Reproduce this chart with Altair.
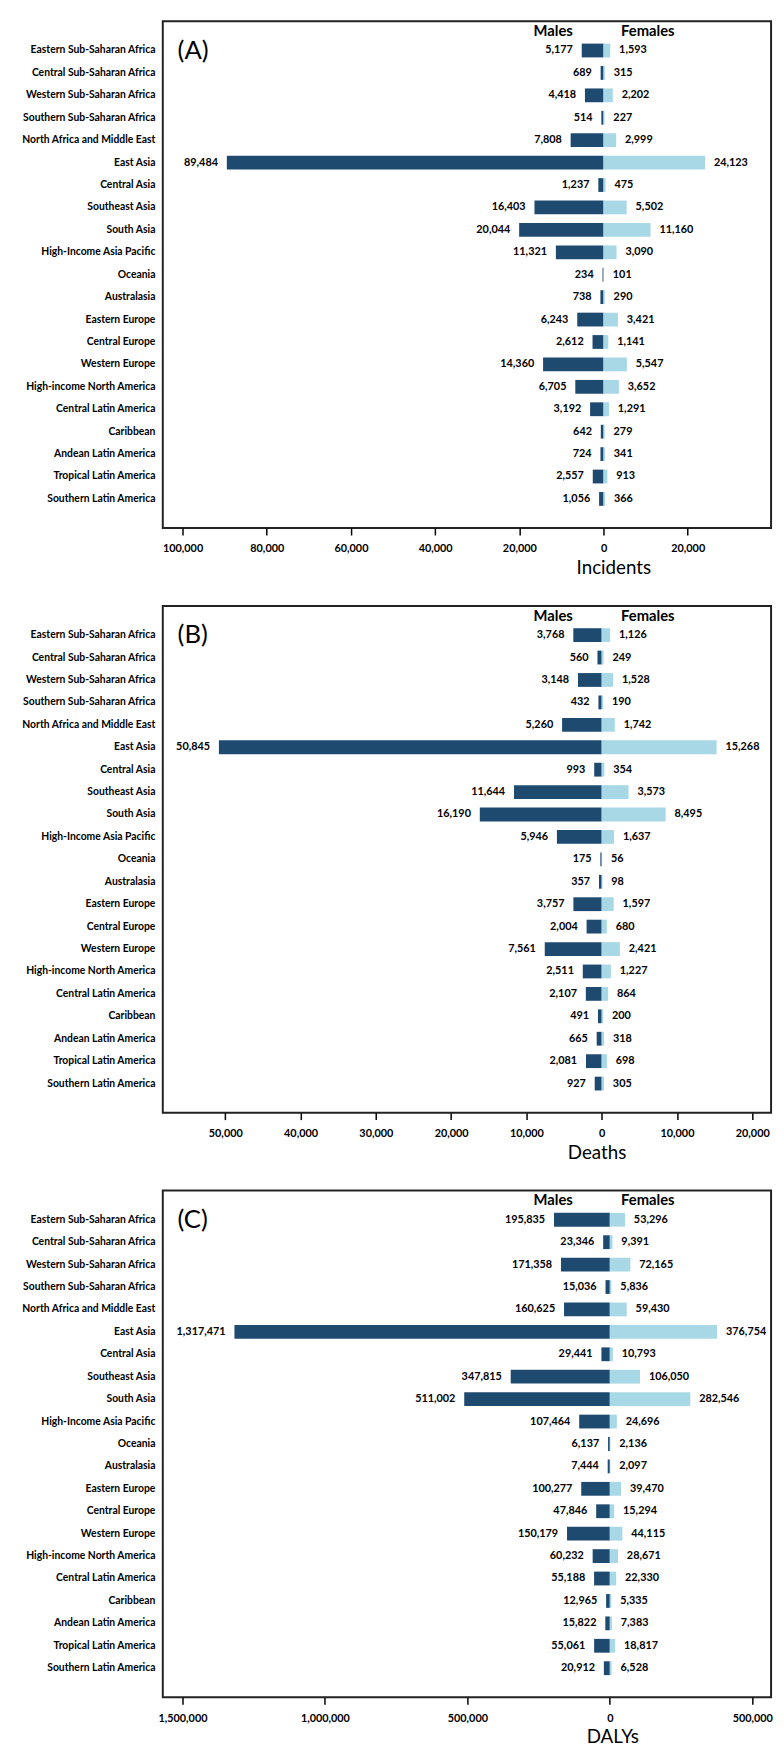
import altair as alt
import pandas as pd

regions = [
    "Eastern Sub-Saharan Africa", "Central Sub-Saharan Africa", "Western Sub-Saharan Africa",
    "Southern Sub-Saharan Africa", "North Africa and Middle East", "East Asia", "Central Asia",
    "Southeast Asia", "South Asia", "High-Income Asia Pacific", "Oceania", "Australasia",
    "Eastern Europe", "Central Europe", "Western Europe", "High-income North America",
    "Central Latin America", "Caribbean", "Andean Latin America", "Tropical Latin America",
    "Southern Latin America",
]

inc_males = [5177, 689, 4418, 514, 7808, 89484, 1237, 16403, 20044, 11321, 234, 738,
             6243, 2612, 14360, 6705, 3192, 642, 724, 2557, 1056]
inc_females = [1593, 315, 2202, 227, 2999, 24123, 475, 5502, 11160, 3090, 101, 290,
               3421, 1141, 5547, 3652, 1291, 279, 341, 913, 366]

death_males = [3768, 560, 3148, 432, 5260, 50845, 993, 11644, 16190, 5946, 175, 357,
               3757, 2004, 7561, 2511, 2107, 491, 665, 2081, 927]
death_females = [1126, 249, 1528, 190, 1742, 15268, 354, 3573, 8495, 1637, 56, 98,
                 1597, 680, 2421, 1227, 864, 200, 318, 698, 305]

daly_males = [195835, 23346, 171358, 15036, 160625, 1317471, 29441, 347815, 511002, 107464,
              6137, 7444, 100277, 47846, 150179, 60232, 55188, 12965, 15822, 55061, 20912]
daly_females = [53296, 9391, 72165, 5836, 59430, 376754, 10793, 106050, 282546, 24696,
                2136, 2097, 39470, 15294, 44115, 28671, 22330, 5335, 7383, 18817, 6528]

inc_ticks = [-100000, -80000, -60000, -40000, -20000, 0, 20000]
death_ticks = [-50000, -40000, -30000, -20000, -10000, 0, 10000, 20000]
daly_ticks = [-1500000, -1000000, -500000, 0, 500000]

DARK = "#1f4a70"
LIGHT = "#a8d8e6"
FONT = "Lato"
W = 617
H = 514


def panel(tag, title, males, females, domain, ticks, title_x):
    rows = []
    for r, m, f in zip(regions, males, females):
        rows.append({"region": r, "sex": "Males", "value": -m, "label": f"{m:,}"})
        rows.append({"region": r, "sex": "Females", "value": f, "label": f"{f:,}"})
    df = pd.DataFrame(rows)

    x = alt.X(
        "value:Q", stack=None,
        scale=alt.Scale(domain=domain, nice=False, zero=False),
        axis=alt.Axis(
            values=ticks, labelExpr="format(abs(datum.value), ',')", title=title,
            grid=False, domain=False, tickSize=7, tickColor="#000", tickWidth=1.5,
            labelPadding=8, labelFont=FONT, labelFontSize=11, labelFontWeight="bold",
            labelColor="#000", titleFont=FONT, titleFontSize=19, titleFontWeight="normal",
            titleColor="#000", titleX=title_x, titleY=40, titleAlign="center",
            titleBaseline="middle", labelFlush=False, labelOverlap=False,
        ),
    )
    y = alt.Y(
        "region:N", sort=regions,
        scale=alt.Scale(paddingInner=0, paddingOuter=0.8),
        axis=alt.Axis(
            title=None, ticks=False, domain=False, labelPadding=8, labelFont=FONT,
            labelFontSize=10.5, labelFontWeight="bold", labelColor="#000", labelLimit=148,
            minExtent=156, maxExtent=156,
        ),
    )
    base = alt.Chart(df)
    bars = base.mark_bar(size=14).encode(
        x=x, y=y,
        color=alt.Color("sex:N", scale=alt.Scale(domain=["Males", "Females"], range=[DARK, LIGHT]),
                        legend=None),
    )
    mtext = base.transform_filter("datum.sex == 'Males'").mark_text(
        align="right", baseline="middle", dx=-9, font=FONT, fontSize=11,
        fontWeight="bold", color="#000",
    ).encode(x=x, y=y, text="label:N")
    ftext = base.transform_filter("datum.sex == 'Females'").mark_text(
        align="left", baseline="middle", dx=9, font=FONT, fontSize=11,
        fontWeight="bold", color="#000",
    ).encode(x=x, y=y, text="label:N")

    one = alt.Data(values=[{}])
    tag_t = alt.Chart(one).mark_text(
        text=tag, align="left", baseline="middle", font=FONT, fontSize=26, color="#000"
    ).encode(x=alt.value(15), y=alt.value(30))
    males_t = alt.Chart(one).mark_text(
        text="Males", align="center", baseline="middle", font=FONT, fontSize=15,
        fontWeight="bold", color="#000"
    ).encode(x=alt.value(396), y=alt.value(10))
    fem_t = alt.Chart(one).mark_text(
        text="Females", align="center", baseline="middle", font=FONT, fontSize=15,
        fontWeight="bold", color="#000"
    ).encode(x=alt.value(492), y=alt.value(10))

    return alt.layer(bars, mtext, ftext, tag_t, males_t, fem_t).properties(width=W, height=H)


pa = panel("(A)", "Incidents", inc_males, inc_females, [-104700, 39800], inc_ticks, 457)
pb = panel("(B)", "Deaths", death_males, death_females, [-58300, 22500], death_ticks, 440)
pc = panel("(C)", "DALYs", daly_males, daly_females, [-1569000, 566000], daly_ticks, 456)

chart = alt.vconcat(pa, pb, pc, spacing=27).properties(
    padding={"left": 0, "right": 2, "top": 0, "bottom": 0},
    background="white",
).configure_view(stroke="#222", strokeWidth=2)

chart.save("out.html", embed_options={"renderer": "svg", "actions": False})
